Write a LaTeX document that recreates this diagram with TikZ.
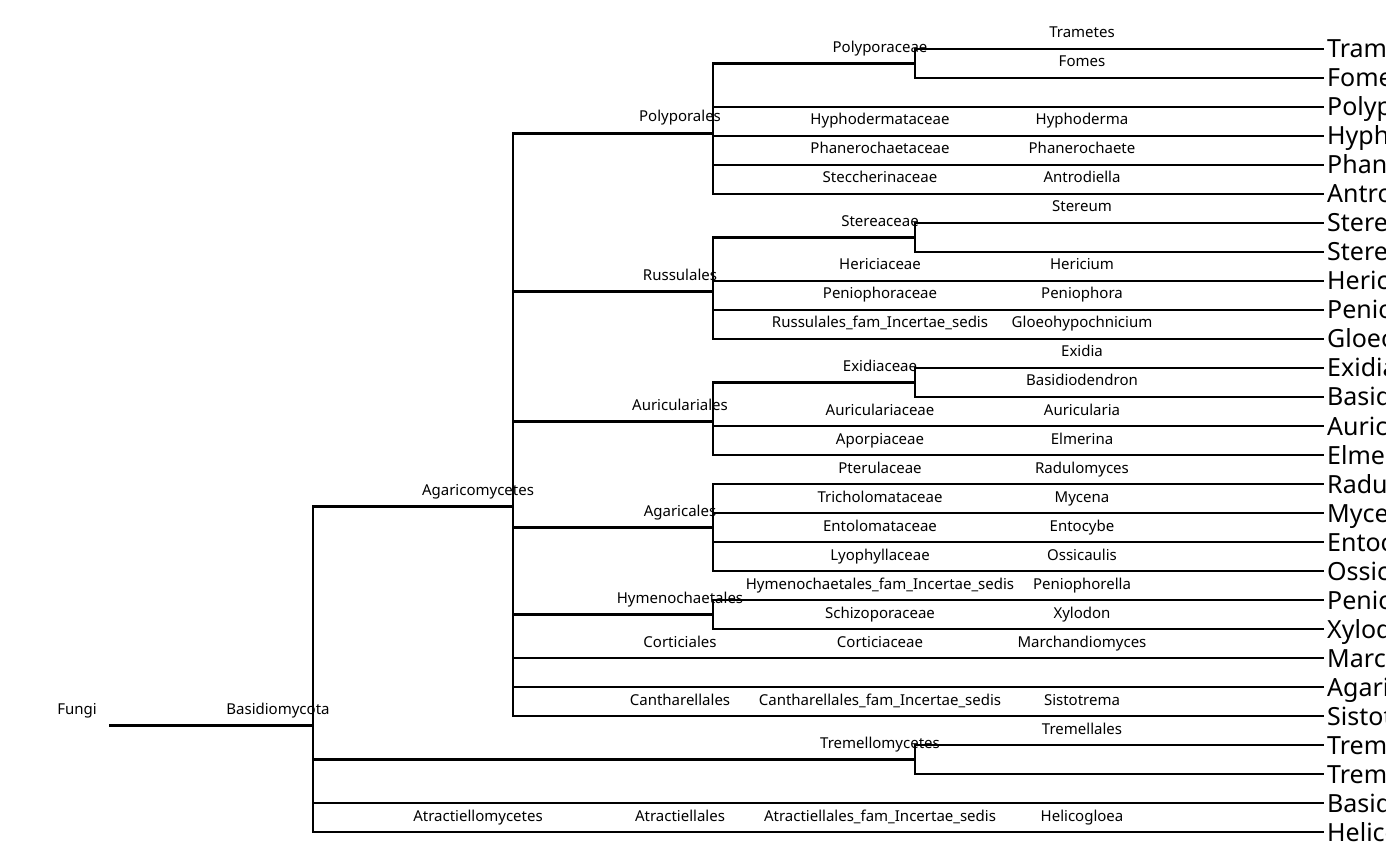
\documentclass[tikz,border=0pt]{standalone}
\usepackage{fontspec}
\setmainfont{Noto Sans}
\usetikzlibrary{positioning}

\begin{document}
\begin{tikzpicture}[
    x=1pt, y=-1pt,
    branch/.style={draw, line width=2.9pt, line cap=rect},
    rank/.style={anchor=base, inner sep=0pt, yshift=-1pt, font=\fontsize{15}{18}\selectfont},
    tiplab/.style={anchor=base west, inner sep=0pt, font=\fontsize{25}{29}\selectfont}
]
\useasboundingbox (0,0) rectangle (1400,866);

% Define coordinates for inner nodes
\coordinate (fungi)           at ( 110, 725.6);
\coordinate (basidiomycota)   at ( 313, 725.6);
\coordinate (agaricomycetes)  at ( 513, 506.6);
\coordinate (polyporales)     at ( 713, 133.1);
\coordinate (polyporaceae)    at ( 915,  63.5);
\coordinate (russulales)      at ( 713, 291.9);
\coordinate (stereaceae)      at ( 915, 237.5);
\coordinate (auriculariales)  at ( 713, 421.2);
\coordinate (exidiaceae)      at ( 915, 382.5);
\coordinate (agaricales)      at ( 713, 527.5);
\coordinate (hymenochaetales) at ( 713, 614.5);
\coordinate (tremellomycetes) at ( 915, 759.5);

% Define coordinates for tips
\coordinate (tram)   at (1323,  49);
\coordinate (fom)    at (1323,  78);
\coordinate (polyp)  at (1323, 107);
\coordinate (hyph)   at (1323, 136);
\coordinate (phan)   at (1323, 165);
\coordinate (antr)   at (1323, 194);
\coordinate (stereA) at (1323, 223);
\coordinate (stereB) at (1323, 252);
\coordinate (heric)  at (1323, 281);
\coordinate (penioA) at (1323, 310);
\coordinate (gloe)   at (1323, 339);
\coordinate (exidi)  at (1323, 368);
\coordinate (basidA) at (1323, 397);
\coordinate (auric)  at (1323, 426);
\coordinate (elme)   at (1323, 455);
\coordinate (radu)   at (1323, 484);
\coordinate (myce)   at (1323, 513);
\coordinate (ento)   at (1323, 542);
\coordinate (ossic)  at (1323, 571);
\coordinate (penioB) at (1323, 600);
\coordinate (xylod)  at (1323, 629);
\coordinate (marc)   at (1323, 658);
\coordinate (agar)   at (1323, 687);
\coordinate (sisto)  at (1323, 716);
\coordinate (tremA)  at (1323, 745);
\coordinate (tremB)  at (1323, 774);
\coordinate (basidB) at (1323, 803);
\coordinate (helic)  at (1323, 832);

% Branches
\draw[branch] (fungi) -- (basidiomycota);
\draw[branch] (basidiomycota) |- (agaricomycetes)
              (basidiomycota) |- (tremellomycetes)
              (basidiomycota) |- (basidB)
              (basidiomycota) |- (helic);
\draw[branch] (agaricomycetes) |- (polyporales)
              (agaricomycetes) |- (russulales)
              (agaricomycetes) |- (auriculariales)
              (agaricomycetes) |- (agaricales)
              (agaricomycetes) |- (hymenochaetales)
              (agaricomycetes) |- (marc)
              (agaricomycetes) |- (agar)
              (agaricomycetes) |- (sisto);
\draw[branch] (polyporales) |- (polyporaceae)
              (polyporales) |- (polyp)
              (polyporales) |- (hyph)
              (polyporales) |- (phan)
              (polyporales) |- (antr);
\draw[branch] (polyporaceae) |- (tram)
              (polyporaceae) |- (fom);
\draw[branch] (russulales) |- (stereaceae)
              (russulales) |- (heric)
              (russulales) |- (penioA)
              (russulales) |- (gloe);
\draw[branch] (stereaceae) |- (stereA)
              (stereaceae) |- (stereB);
\draw[branch] (auriculariales) |- (exidiaceae)
              (auriculariales) |- (auric)
              (auriculariales) |- (elme);
\draw[branch] (exidiaceae) |- (exidi)
              (exidiaceae) |- (basidA);
\draw[branch] (agaricales) |- (radu)
              (agaricales) |- (myce)
              (agaricales) |- (ento)
              (agaricales) |- (ossic);
\draw[branch] (hymenochaetales) |- (penioB)
              (hymenochaetales) |- (xylod);
\draw[branch] (tremellomycetes) |- (tremA)
              (tremellomycetes) |- (tremB);

% Rank labels
\node[rank] (lFungi) at (  77, 713) {Fungi};
\node[rank] (lBasidiomycota) at ( 278, 713) {Basidiomycota};
\node[rank] (lAgaricomycetes) at ( 478, 494) {Agaricomycetes};
\node[rank] (lAtractiellomycetes) at ( 478, 820) {Atractiellomycetes};

\node[rank] (lPolyporales) at ( 680, 121) {Polyporales};
\node[rank] (lRussulales) at ( 680, 280) {Russulales};
\node[rank] (lAuriculariales) at ( 680, 409) {Auriculariales};
\node[rank] (lAgaricales) at ( 680, 515.5) {Agaricales};
\node[rank] (lHymenochaetales) at ( 680, 602.5) {Hymenochaetales};
\node[rank] (lCorticiales) at ( 680, 646) {Corticiales};
\node[rank] (lCantharellales) at ( 680, 704) {Cantharellales};
\node[rank] (lAtractiellales) at ( 680, 820) {Atractiellales};

\node[rank] (lPolyporaceae) at ( 880,  51.5) {Polyporaceae};
\node[rank] (lHyphodermataceae) at ( 880, 124) {Hyphodermataceae};
\node[rank] (lPhanerochaetaceae) at ( 880, 153) {Phanerochaetaceae};
\node[rank] (lSteccherinaceae) at ( 880, 182) {Steccherinaceae};
\node[rank] (lStereaceae) at ( 880, 225.5) {Stereaceae};
\node[rank] (lHericiaceae) at ( 880, 269) {Hericiaceae};
\node[rank] (lPeniophoraceae) at ( 880, 298) {Peniophoraceae};
\node[rank] (lRussulalesFam) at ( 880, 327) {Russulales\_fam\_Incertae\_sedis};
\node[rank] (lExidiaceae) at ( 880, 370.5) {Exidiaceae};
\node[rank] (lAuriculariaceae) at ( 880, 414) {Auriculariaceae};
\node[rank] (lAporpiaceae) at ( 880, 443) {Aporpiaceae};
\node[rank] (lPterulaceae) at ( 880, 472) {Pterulaceae};
\node[rank] (lTricholomataceae) at ( 880, 501) {Tricholomataceae};
\node[rank] (lEntolomataceae) at ( 880, 530) {Entolomataceae};
\node[rank] (lLyophyllaceae) at ( 880, 559) {Lyophyllaceae};
\node[rank] (lHymenochaetalesFam) at ( 880, 588) {Hymenochaetales\_fam\_Incertae\_sedis};
\node[rank] (lSchizoporaceae) at ( 880, 617) {Schizoporaceae};
\node[rank] (lCorticiaceae) at ( 880, 646) {Corticiaceae};
\node[rank] (lCantharellalesFam) at ( 880, 704) {Cantharellales\_fam\_Incertae\_sedis};
\node[rank] (lTremellomycetes) at ( 880, 747.5) {Tremellomycetes};
\node[rank] (lAtractiellalesFam) at ( 880, 820) {Atractiellales\_fam\_Incertae\_sedis};

\node[rank] (lTrametes) at (1082,  37) {Trametes};
\node[rank] (lFomes) at (1082,  66) {Fomes};
\node[rank] (lHyphoderma) at (1082, 124) {Hyphoderma};
\node[rank] (lPhanerochaete) at (1082, 153) {Phanerochaete};
\node[rank] (lAntrodiella) at (1082, 182) {Antrodiella};
\node[rank] (lStereum) at (1082, 211) {Stereum};
\node[rank] (lHericium) at (1082, 269) {Hericium};
\node[rank] (lPeniophora) at (1082, 298) {Peniophora};
\node[rank] (lGloeohypochnicium) at (1082, 327) {Gloeohypochnicium};
\node[rank] (lExidia) at (1082, 356) {Exidia};
\node[rank] (lBasidiodendron) at (1082, 385) {Basidiodendron};
\node[rank] (lAuricularia) at (1082, 414) {Auricularia};
\node[rank] (lElmerina) at (1082, 443) {Elmerina};
\node[rank] (lRadulomyces) at (1082, 472) {Radulomyces};
\node[rank] (lMycena) at (1082, 501) {Mycena};
\node[rank] (lEntocybe) at (1082, 530) {Entocybe};
\node[rank] (lOssicaulis) at (1082, 559) {Ossicaulis};
\node[rank] (lPeniophorella) at (1082, 588) {Peniophorella};
\node[rank] (lXylodon) at (1082, 617) {Xylodon};
\node[rank] (lMarchandiomyces) at (1082, 646) {Marchandiomyces};
\node[rank] (lSistotrema) at (1082, 704) {Sistotrema};
\node[rank] (lTremellales) at (1082, 733) {Tremellales};
\node[rank] (lHelicogloea) at (1082, 820) {Helicogloea};

% Tip labels, cut at the right edge
\begin{scope}
\clip (0,0) rectangle (1385,866);
\node[tiplab] at ([shift={(4,9)}]tram)   {Trametes};
\node[tiplab] at ([shift={(4,9)}]fom)    {Fomes};
\node[tiplab] at ([shift={(4,9)}]polyp)  {Polyporales};
\node[tiplab] at ([shift={(4,9)}]hyph)   {Hyphoderma};
\node[tiplab] at ([shift={(4,9)}]phan)   {Phanerochaete};
\node[tiplab] at ([shift={(4,9)}]antr)   {Antrodiella};
\node[tiplab] at ([shift={(4,9)}]stereA) {Stereum};
\node[tiplab] at ([shift={(4,9)}]stereB) {Stereaceae};
\node[tiplab] at ([shift={(4,9)}]heric)  {Hericium};
\node[tiplab] at ([shift={(4,9)}]penioA) {Peniophora};
\node[tiplab] at ([shift={(4,9)}]gloe)   {Gloeohypochnicium};
\node[tiplab] at ([shift={(4,9)}]exidi)  {Exidia};
\node[tiplab] at ([shift={(4,9)}]basidA) {Basidiodendron};
\node[tiplab] at ([shift={(4,9)}]auric)  {Auricularia};
\node[tiplab] at ([shift={(4,9)}]elme)   {Elmerina};
\node[tiplab] at ([shift={(4,9)}]radu)   {Radulomyces};
\node[tiplab] at ([shift={(4,9)}]myce)   {Mycena};
\node[tiplab] at ([shift={(4,9)}]ento)   {Entocybe};
\node[tiplab] at ([shift={(4,9)}]ossic)  {Ossicaulis};
\node[tiplab] at ([shift={(4,9)}]penioB) {Peniophorella};
\node[tiplab] at ([shift={(4,9)}]xylod)  {Xylodon};
\node[tiplab] at ([shift={(4,9)}]marc)   {Marchandiomyces};
\node[tiplab] at ([shift={(4,9)}]agar)   {Agaricomycetes};
\node[tiplab] at ([shift={(4,9)}]sisto)  {Sistotrema};
\node[tiplab] at ([shift={(4,9)}]tremA)  {Tremellales};
\node[tiplab] at ([shift={(4,9)}]tremB)  {Tremellomycetes};
\node[tiplab] at ([shift={(4,9)}]basidB) {Basidiomycota};
\node[tiplab] at ([shift={(4,9)}]helic)  {Helicogloea};
\end{scope}

\end{tikzpicture}
\end{document}
